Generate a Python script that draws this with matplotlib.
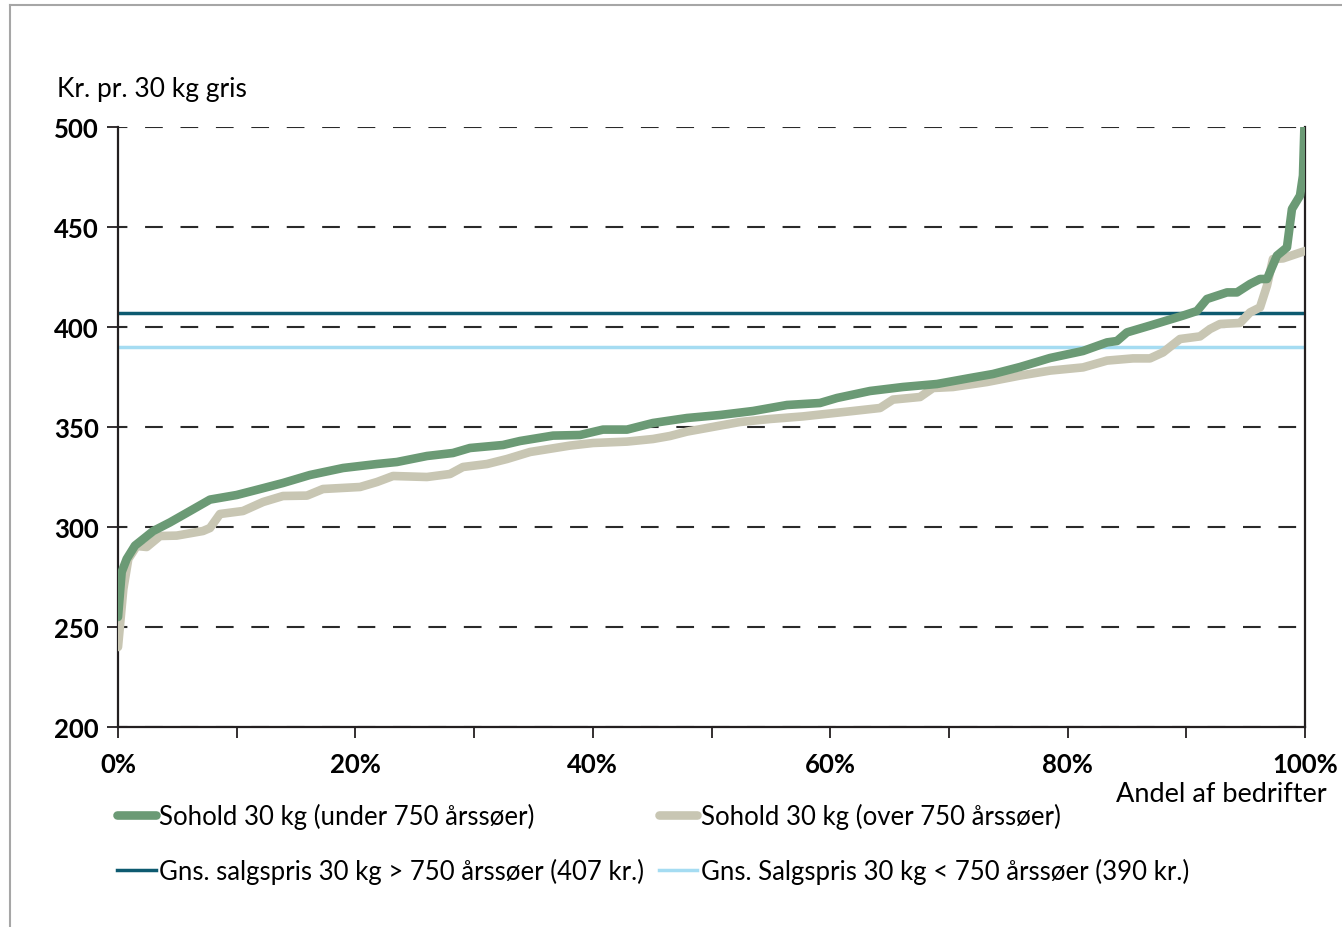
import numpy as np
import matplotlib.pyplot as plt
from matplotlib.lines import Line2D
from matplotlib.ticker import MultipleLocator, FuncFormatter

plt.rcParams['font.family'] = ['Lato', 'DejaVu Sans']

# Sohold 30 kg (under 750 årssøer) - andel af bedrifter (%) og pris
x_under = [0.0, 0.31, 0.73, 1.43, 2.13, 2.97, 4.38, 6.07, 7.75, 10.0, 11.96, 13.9,
           16.17, 18.96, 21.82, 23.5, 26.03, 28.22, 29.65, 32.43, 33.87, 36.65, 38.92,
           40.86, 42.88, 45.07, 47.94, 50.72, 53.5, 56.36, 59.14, 60.57, 63.35, 66.13,
           69.0, 71.78, 73.71, 75.99, 77.68, 78.52, 81.3, 83.32, 84.16, 85.0, 86.94,
           89.72, 90.9, 91.74, 93.43, 94.27, 95.37, 96.21, 96.8, 97.64, 98.48, 98.9,
           99.58, 99.83, 100.0]
y_under = [255, 277.5, 284, 290.7, 294, 298, 302.3, 308, 313.7, 316, 319, 322,
           326, 329.5, 331.5, 332.5, 335.5, 337, 339.5, 341, 343, 345.7, 346,
           348.7, 348.7, 352, 354.5, 356, 358, 361, 362, 364.5, 368, 370,
           371.5, 374.5, 376.5, 380, 383, 384.5, 388, 392.3, 393, 397.3, 400.7,
           405.7, 408, 414, 417.3, 417.3, 421.5, 424, 424, 435.7, 439.8, 459,
           465.7, 475.7, 510]

# Sohold 30 kg (over 750 årssøer)
x_over = [0.0, 0.45, 0.87, 1.58, 2.42, 3.54, 4.95, 7.16, 7.75, 8.59, 10.53, 12.22,
          13.9, 15.92, 17.27, 20.39, 21.82, 23.17, 26.03, 27.97, 29.06, 31.09, 32.77,
          34.71, 38.08, 40.02, 42.88, 45.07, 46.5, 47.94, 50.72, 52.4, 54.93, 57.71,
          61.92, 64.2, 65.29, 67.57, 68.66, 70.35, 73.21, 75.99, 78.52, 81.3, 83.32,
          85.51, 86.94, 88.04, 89.47, 91.15, 92.0, 92.84, 94.52, 95.37, 96.21, 96.8,
          97.3, 98.15, 100.0]
y_over = [240, 269, 284, 290.5, 290, 295.5, 295.7, 298, 299.5, 306.5, 308, 312.5,
          315.5, 315.7, 319, 320, 322.5, 325.5, 325, 326.5, 330, 331.5, 334,
          337.5, 340.7, 342, 342.7, 344, 345.5, 347.7, 350.7, 352.5, 354, 355.3,
          358, 359.5, 363.7, 365, 369.5, 370, 372.5, 375.7, 378.2, 379.8, 383.2,
          384.3, 384.3, 387.3, 394, 395.3, 399, 401.5, 402, 407.3, 409.8, 420.7,
          434, 434.3, 438]

avg_over = 407
avg_under = 390

labels = ['Sohold 30 kg (under 750 årssøer)',
          'Gns. salgspris 30 kg > 750 årssøer (407 kr.)',
          'Sohold 30 kg (over 750 årssøer)',
          'Gns. Salgspris 30 kg < 750 årssøer (390 kr.)']

c_green = '#6b9a75'
c_beige = '#c8c6b3'
c_teal = '#0d5a70'
c_light = '#a5dcf2'

fig = plt.figure(figsize=(13.42, 9.28), dpi=100)
ax = fig.add_axes([118 / 1342, 1 - 728 / 928, 1187 / 1342, 600 / 928])

l_teal = ax.axhline(avg_over, color=c_teal, lw=2.5, zorder=2)
l_light = ax.axhline(avg_under, color=c_light, lw=2.5, zorder=2)
l_over, = ax.plot(x_over, y_over, color=c_beige, lw=6.2, zorder=3,
                  solid_joinstyle='round', solid_capstyle='round')
l_under, = ax.plot(x_under, y_under, color=c_green, lw=6.2, zorder=4,
                   solid_joinstyle='round', solid_capstyle='round')

ax.set_xlim(0, 100)
ax.set_ylim(200, 500)
ax.yaxis.set_major_locator(MultipleLocator(50))
ax.xaxis.set_major_locator(MultipleLocator(20))
ax.xaxis.set_minor_locator(MultipleLocator(10))
ax.xaxis.set_major_formatter(FuncFormatter(lambda v, p: f'{v:.0f}%'))

ax.grid(axis='y', color='#2a2a2a', lw=1.5, linestyle=(4, (8.5, 8.5)), zorder=1)
ax.set_axisbelow(True)

for s in ['left', 'bottom', 'right']:
    ax.spines[s].set_linewidth(1.6)
    ax.spines[s].set_color('#231f20')
ax.spines['top'].set_visible(False)

ax.tick_params(axis='both', which='both', length=8, width=1.3, color='#231f20',
               direction='out', labelsize=18.5)
ax.tick_params(axis='x', pad=10)
ax.tick_params(axis='y', pad=6)
for t in ax.get_xticklabels() + ax.get_yticklabels():
    t.set_fontweight('bold')

fig.text(57 / 1342, 1 - 90 / 928, 'Kr. pr. 30 kg gris', fontsize=19,
         ha='left', va='center')
fig.text(1327 / 1342, 1 - 795 / 928, 'Andel af bedrifter', fontsize=19.5,
         ha='right', va='center')

leg = fig.legend([l_under, l_teal, l_over, l_light], labels, ncol=2, frameon=False,
                 loc='upper left', bbox_to_anchor=(117 / 1342, 1 - 804 / 928),
                 fontsize=18.5, handlelength=1.5, handletextpad=0.15,
                 columnspacing=0.55, labelspacing=1.12, borderpad=0,
                 borderaxespad=0)

# outer frame
fig.add_artist(Line2D([10 / 1342, 10 / 1342], [0, 1 - 6 / 928], color='#a6a6a6', lw=1.5))
fig.add_artist(Line2D([10 / 1342, 1], [1 - 6 / 928, 1 - 6 / 928], color='#a6a6a6', lw=1.5))

fig.savefig('out.png', dpi=100)
